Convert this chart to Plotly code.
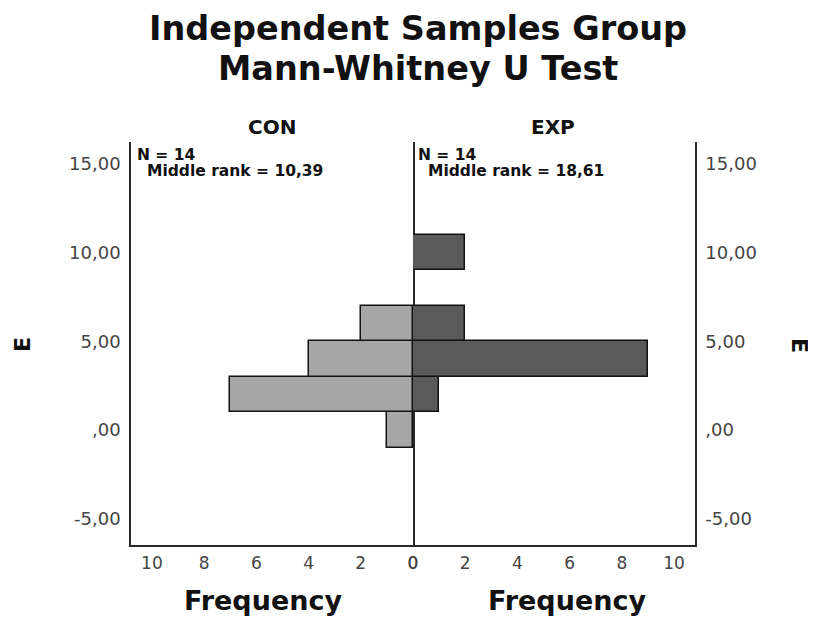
import plotly.graph_objects as go

# ---- data ----
bin_centers = [0, 2, 4, 6, 10]          # E bins (width 2)
con_counts = [1, 7, 4, 2, 0]            # CON frequencies
exp_counts = [0, 1, 9, 2, 2]            # EXP frequencies
y_tickvals = [-5, 0, 5, 10, 15]
y_ticktext = ["-5,00", ",00", "5,00", "10,00", "15,00"]
x_tickvals = [0, 2, 4, 6, 8, 10]
x_ticktext = ["0", "2", "4", "6", "8", "10"]
groups = ["CON", "EXP"]
n_text = ["N = 14", "N = 14"]
rank_text = ["Middle rank = 10,39", "Middle rank = 18,61"]
title_lines = ["Independent Samples Group", "Mann-Whitney U Test"]

OFF = 8  # page body margin
W, H = 816 - OFF, 619 - OFF
# plot area in window pixels: x 131..695, y 142..545
L, R, T, B = 131 - OFF, W - (695 - OFF), 142 - OFF, H - (545 - OFF)
PW, PH = W - L - R, H - T - B
FONT = "DejaVu Sans"
LIGHT, DARK = "#a6a6a6", "#5a5a5a"
AX = "#2a2a2a"


def px(x):
    return (x - OFF - L) / PW


def py(y):
    return (H - B - (y - OFF)) / PH


def nz(ys, xs):
    pairs = [(y, x) for y, x in zip(ys, xs) if x]
    return [p[0] for p in pairs], [p[1] for p in pairs]


fig = go.Figure()
cy, cx = nz(bin_centers, con_counts)
fig.add_trace(go.Bar(y=cy, x=cx, orientation="h", width=2, xaxis="x", yaxis="y",
                     marker=dict(color=LIGHT, line=dict(color="#111111", width=1.5)),
                     showlegend=False, hoverinfo="x+y"))
ey, ex = nz(bin_centers, exp_counts)
fig.add_trace(go.Bar(y=ey, x=ex, orientation="h", width=2, xaxis="x2", yaxis="y2",
                     marker=dict(color=DARK, line=dict(color="#111111", width=1.5)),
                     showlegend=False, hoverinfo="x+y"))

yr = [-6.48, 16.23]
xr = 10.8
common_x = dict(showline=True, linecolor=AX, linewidth=1.5, ticks="", showgrid=False,
                zeroline=False, tickvals=x_tickvals, ticktext=x_ticktext,
                tickfont=dict(family=FONT, size=17, color="#444444"), ticklabelstandoff=2)
common_y = dict(showline=True, linecolor=AX, linewidth=1.5, ticks="", showgrid=False,
                zeroline=False, tickvals=y_tickvals, ticktext=y_ticktext, range=yr,
                tickfont=dict(family=FONT, size=18, color="#444444"), ticklabelstandoff=5)

fig.update_layout(
    width=W, height=H, margin=dict(l=L, r=R, t=T, b=B),
    paper_bgcolor="white", plot_bgcolor="white", bargap=0,
    xaxis=dict(domain=[0, 0.5], range=[xr, 0], anchor="y", **common_x),
    xaxis2=dict(domain=[0.5, 1], range=[0, xr], anchor="y2", **common_x),
    yaxis=dict(anchor="x", mirror=True, **common_y),
    yaxis2=dict(anchor="x2", side="right", **common_y),
)

ann = []
# title
for line, yy in zip(title_lines, [28, 68]):
    ann.append(dict(text="<b>%s</b>" % line, x=px(418), y=py(yy), xref="paper", yref="paper",
                    showarrow=False, font=dict(family=FONT, size=33.5, color="#111111"),
                    xanchor="center", yanchor="middle"))
# group titles
for g, cxp in zip(groups, [272, 553]):
    ann.append(dict(text="<b>%s</b>" % g, x=px(cxp), y=py(127), xref="paper", yref="paper",
                    showarrow=False, font=dict(family=FONT, size=20, color="#111111"),
                    xanchor="center", yanchor="middle"))
# N and rank labels
for nt, rt, x0 in zip(n_text, rank_text, [135, 416]):
    ann.append(dict(text="<b>%s</b>" % nt, x=px(x0), y=py(155), xref="paper", yref="paper",
                    showarrow=False, font=dict(family=FONT, size=15.5, color="#111111"),
                    xanchor="left", yanchor="middle"))
    ann.append(dict(text="<b>%s</b>" % rt, x=px(x0 + 10), y=py(171), xref="paper", yref="paper",
                    showarrow=False, font=dict(family=FONT, size=15.5, color="#111111"),
                    xanchor="left", yanchor="middle"))
# axis titles
for cxp in [263, 567]:
    ann.append(dict(text="<b>Frequency</b>", x=px(cxp), y=py(600), xref="paper", yref="paper",
                    showarrow=False, font=dict(family=FONT, size=27, color="#111111"),
                    xanchor="center", yanchor="middle"))
ann.append(dict(text="<b>E</b>", x=px(22), y=py(345), xref="paper", yref="paper", textangle=-90,
                showarrow=False, font=dict(family=FONT, size=22, color="#111111"),
                xanchor="center", yanchor="middle"))
ann.append(dict(text="<b>E</b>", x=px(800), y=py(345), xref="paper", yref="paper", textangle=90,
                showarrow=False, font=dict(family=FONT, size=22, color="#111111"),
                xanchor="center", yanchor="middle"))
fig.update_layout(annotations=ann)

fig.write_html("out.html")
